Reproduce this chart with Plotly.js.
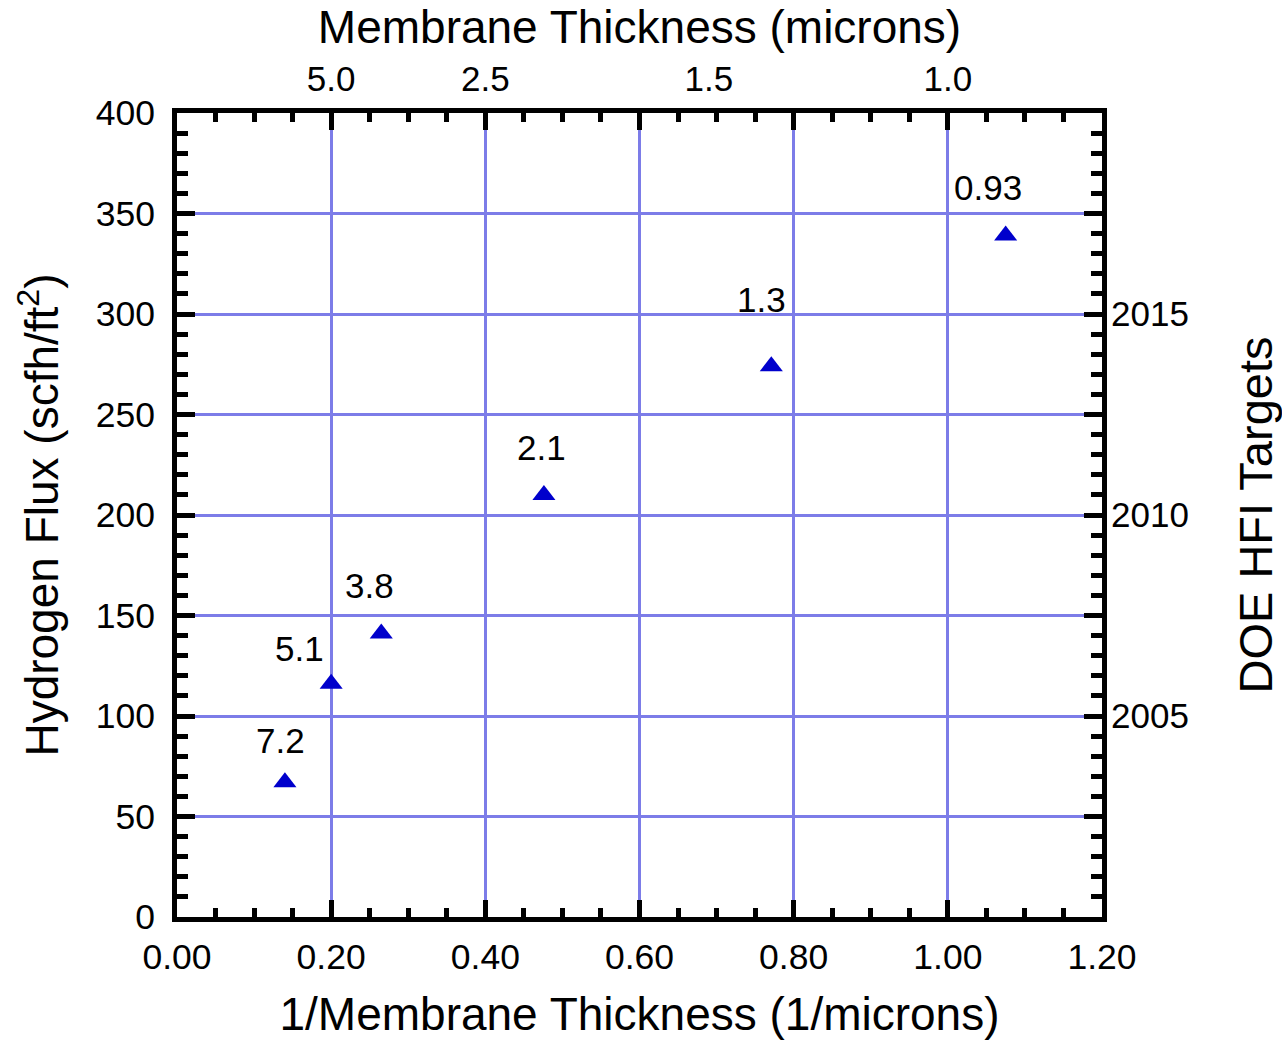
<!DOCTYPE html>
<html>
<head>
<meta charset="utf-8">
<script src="https://cdn.plot.ly/plotly-3.0.1.min.js"></script>
<style>html,body{margin:0;padding:0;background:#fff;}#chart{width:1282px;height:1040px;}</style>
</head>
<body>
<div id="chart"></div>
<script>
// Data
const thicknessLabels = ['7.2', '5.1', '3.8', '2.1', '1.3', '0.93'];
const invThickness = [0.140, 0.200, 0.265, 0.476, 0.771, 1.075];
const hydrogenFlux = [67, 116, 141, 210, 274, 339];
// label offsets in pixels relative to each point (styling)
const labelDx = [-4, -32, -12, -2, -10, -18];
const labelDy = [42, 35, 48, 47, 67, 48];

const topTickVals = [0.2, 0.4, 0.69, 1.0];
const topTickText = ['5.0', '2.5', '1.5', '1.0'];
const doeTickVals = [100, 200, 300];
const doeTickText = ['2005', '2010', '2015'];

const FONT = 'Arial, "Liberation Sans", Helvetica, sans-serif';
const gridColor = '#7c7ce8';

const traces = [
  {
    x: invThickness, y: hydrogenFlux, type: 'scatter', mode: 'markers',
    marker: {symbol: 'triangle-up', size: 20, color: '#0000cc'},
    showlegend: false, hoverinfo: 'x+y'
  },
  { x: [null], y: [null], xaxis: 'x2', yaxis: 'y2', type: 'scatter', mode: 'markers', showlegend: false }
];

const annotations = thicknessLabels.map((t, i) => ({
  x: invThickness[i], y: hydrogenFlux[i], xref: 'x', yref: 'y',
  text: t, showarrow: false, xshift: labelDx[i], yshift: labelDy[i],
  font: {family: FONT, size: 35, color: '#000'}
}));

const layout = {
  width: 1282, height: 1040,
  margin: {l: 177, r: 180, t: 113, b: 123},
  paper_bgcolor: '#fff', plot_bgcolor: '#fff',
  font: {family: FONT, color: '#000', size: 35},
  showlegend: false,
  xaxis: {
    range: [0, 1.2], dtick: 0.2, tick0: 0, tickformat: '.2f',
    ticks: 'inside', ticklen: 17, tickwidth: 5, tickcolor: '#000',
    showline: true, linewidth: 5, linecolor: '#000', mirror: 'ticks',
    showgrid: true, gridcolor: gridColor, gridwidth: 3, zeroline: false,
    minor: {dtick: 0.05, ticks: 'inside', ticklen: 9, tickwidth: 5, tickcolor: '#000', showgrid: false},
    tickfont: {family: FONT, size: 35.5}, ticklabelstandoff: 4,
    title: {text: '1/Membrane Thickness (1/microns)', font: {family: FONT, size: 46}, standoff: 26}
  },
  yaxis: {
    range: [0, 400], dtick: 50, tick0: 0,
    ticks: 'inside', ticklen: 18, tickwidth: 5, tickcolor: '#000',
    showline: true, linewidth: 5, linecolor: '#000', mirror: 'ticks',
    showgrid: true, gridcolor: gridColor, gridwidth: 3, zeroline: false,
    minor: {dtick: 10, ticks: 'inside', ticklen: 11, tickwidth: 5, tickcolor: '#000', showgrid: false},
    tickfont: {family: FONT, size: 35.5}, ticklabelstandoff: 10,
    title: {text: 'Hydrogen Flux (scfh/ft<sup>2</sup>)', font: {family: FONT, size: 46}, standoff: 24}
  },
  xaxis2: {
    overlaying: 'x', side: 'top', anchor: 'y', range: [0, 1.2],
    tickmode: 'array', tickvals: topTickVals, ticktext: topTickText,
    ticks: '', showline: false, showgrid: false, zeroline: false,
    tickfont: {family: FONT, size: 35}, ticklabelstandoff: 14,
    title: {text: 'Membrane Thickness (microns)', font: {family: FONT, size: 46}, standoff: 0}
  },
  yaxis2: {
    overlaying: 'y', side: 'right', anchor: 'x', range: [0, 400],
    tickmode: 'array', tickvals: doeTickVals, ticktext: doeTickText,
    ticks: '', showline: false, showgrid: false, zeroline: false,
    tickfont: {family: FONT, size: 35}, ticklabelstandoff: 8,
    title: {text: 'DOE HFI Targets', font: {family: FONT, size: 47}, standoff: 52}
  },
  annotations: annotations
};

Plotly.newPlot('chart', traces, layout, {displayModeBar: false, staticPlot: true});
</script>
</body>
</html>
